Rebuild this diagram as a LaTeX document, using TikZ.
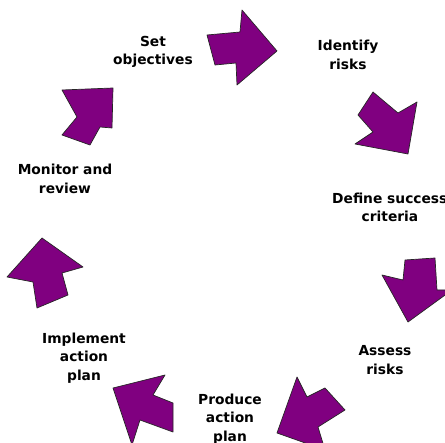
\documentclass[tikz,border=0pt]{standalone}
\usepackage{fontspec}
\setmainfont{DejaVu Sans}
\definecolor{arrowpurple}{HTML}{800080}
\tikzset{
  cyclearrow/.style={fill=arrowpurple, draw=black!85, line width=0.7pt, line join=round},
  lbl/.style={align=center, font=\bfseries\fontsize{13.8}{18.5}\selectfont, inner sep=0pt, text=black}
}
\begin{document}
\begin{tikzpicture}[x=1pt,y=-1pt]
\useasboundingbox (0,0) rectangle (445,443);
\clip (0,0) rectangle (445,443);
% arrows
\draw[cyclearrow] (207,35) -- (240,32) -- (242,10) -- (277,51) -- (237,85) -- (236,63) -- (215,65) -- cycle;
\draw[cyclearrow] (373,92) -- (398,113) -- (417,102) -- (408,154) -- (355,144) -- (373,132) -- (358,115) -- cycle;
\draw[cyclearrow] (405,260) -- (435,258) -- (437,290) -- (452,290) -- (408,322) -- (382,275) -- (403,280) -- cycle;
\draw[cyclearrow] (297,377) -- (307,397) -- (325,388) -- (345,410) -- (318,427) -- (325,450) -- (277,433) -- cycle;
\draw[cyclearrow] (113,388) -- (165,375) -- (153,395) -- (173,403) -- (173,432) -- (140,420) -- (132,445) -- cycle;
\draw[cyclearrow] (42,238) -- (83,267) -- (62,273) -- (68,295) -- (37,308) -- (33,282) -- (7,277) -- cycle;
\draw[cyclearrow] (62,90) -- (113,88) -- (112,128) -- (100,127) -- (90,145) -- (62,135) -- (77,117) -- cycle;
% labels
\node[lbl] (setobj) at (153,52) {Set\\objectives};
\node[lbl] (identify) at (348,55) {Identify\\risks};
\node[lbl, anchor=west] (define1) at (332,198) {Define success};
\node[lbl] (define2) at (390,216) {criteria};
\node[lbl] (assess) at (385,360) {Assess\\risks};
\node[lbl] (produce) at (230,419) {Produce\\action\\plan};
\node[lbl] (implement) at (84,358) {Implement\\action\\plan};
\node[lbl] (monitor) at (65,179) {Monitor and\\review};
\end{tikzpicture}
\end{document}
